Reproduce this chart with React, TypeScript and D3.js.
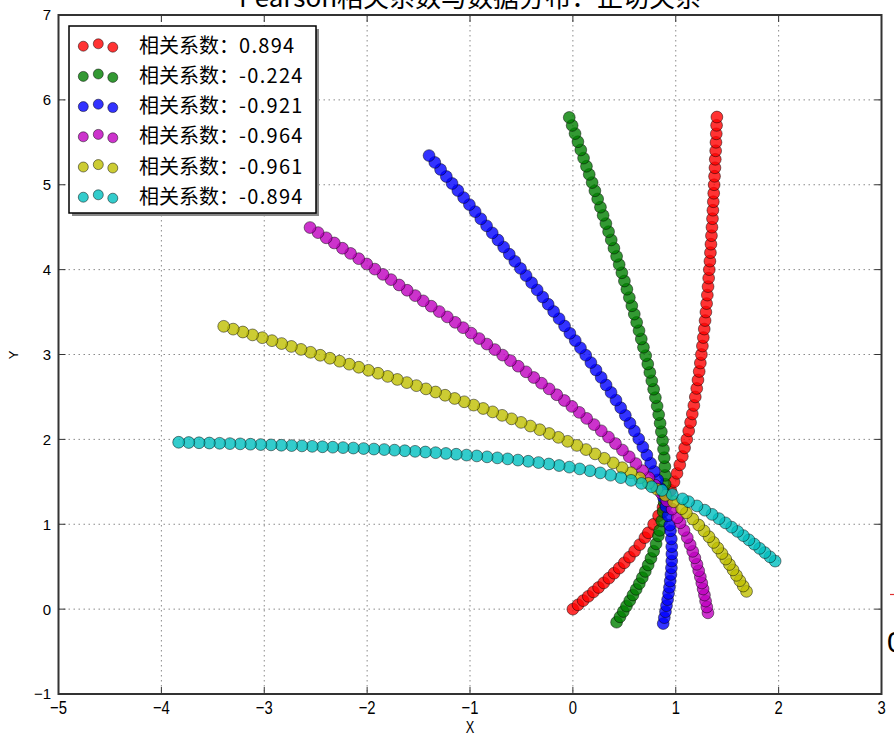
import React from 'react';
import * as d3 from 'd3';

type Pt = [number, number];

// ---- data ----
const redPoints: Pt[] = [
  [0,0],[0.05,0.05],[0.1,0.1],[0.15,0.151],[0.2,0.203],[0.25,0.255],[0.3,0.309],[0.35,0.365],[0.4,0.423],[0.45,0.483],
  [0.5,0.546],[0.55,0.613],[0.6,0.684],[0.65,0.76],[0.7,0.842],[0.733,0.9],[0.785,1.0],[0.833,1.1],[0.876,1.2],[0.915,1.3],
  [0.951,1.4],[0.983,1.5],[1.012,1.6],[1.039,1.7],[1.064,1.8],[1.086,1.9],[1.107,2.0],[1.126,2.1],[1.144,2.2],[1.161,2.3],
  [1.176,2.4],[1.19,2.5],[1.204,2.6],[1.216,2.7],[1.228,2.8],[1.239,2.9],[1.249,3.0],[1.259,3.1],[1.268,3.2],[1.277,3.3],
  [1.285,3.4],[1.293,3.5],[1.3,3.6],[1.307,3.7],[1.314,3.8],[1.32,3.9],[1.326,4.0],[1.332,4.1],[1.337,4.2],[1.342,4.3],
  [1.347,4.4],[1.352,4.5],[1.357,4.6],[1.361,4.7],[1.365,4.8],[1.369,4.9],[1.373,5.0],[1.377,5.1],[1.381,5.2],[1.384,5.3],
  [1.388,5.4],[1.391,5.5],[1.394,5.6],[1.397,5.7],[1.4,5.798]
];

const greenPoints: Pt[] = [
  [0.425,-0.154],[0.458,-0.091],[0.49,-0.028],[0.521,0.036],[0.553,0.1],[0.584,0.166],[0.615,0.233],[0.646,0.301],[0.675,0.371],[0.704,0.444],
  [0.732,0.52],[0.759,0.599],[0.785,0.682],[0.809,0.769],[0.831,0.863],[0.844,0.928],[0.863,1.039],[0.878,1.149],[0.888,1.258],[0.894,1.365],
  [0.897,1.471],[0.897,1.576],[0.894,1.68],[0.888,1.784],[0.881,1.886],[0.872,1.988],[0.86,2.09],[0.848,2.191],[0.834,2.292],[0.819,2.392],
  [0.802,2.492],[0.785,2.591],[0.767,2.69],[0.748,2.789],[0.728,2.888],[0.708,2.987],[0.686,3.085],[0.665,3.183],[0.643,3.281],[0.62,3.379],
  [0.597,3.476],[0.573,3.574],[0.549,3.671],[0.525,3.769],[0.501,3.866],[0.476,3.963],[0.45,4.06],[0.425,4.157],[0.399,4.253],[0.373,4.35],
  [0.347,4.447],[0.321,4.543],[0.294,4.64],[0.268,4.736],[0.241,4.833],[0.214,4.929],[0.187,5.026],[0.159,5.122],[0.132,5.218],[0.104,5.314],
  [0.077,5.41],[0.049,5.507],[0.021,5.603],[-0.007,5.699],[-0.035,5.793]
];

const bluePoints: Pt[] = [
  [0.878,-0.17],[0.889,-0.1],[0.9,-0.03],[0.91,0.041],[0.921,0.112],[0.93,0.184],[0.939,0.257],[0.946,0.331],[0.953,0.408],[0.958,0.486],
  [0.961,0.566],[0.962,0.65],[0.961,0.736],[0.957,0.827],[0.949,0.923],[0.942,0.989],[0.926,1.101],[0.905,1.21],[0.881,1.316],[0.854,1.42],
  [0.824,1.522],[0.791,1.622],[0.756,1.72],[0.719,1.816],[0.68,1.912],[0.64,2.006],[0.598,2.099],[0.555,2.191],[0.51,2.283],[0.465,2.373],
  [0.419,2.463],[0.371,2.553],[0.323,2.641],[0.275,2.73],[0.225,2.817],[0.175,2.905],[0.125,2.992],[0.074,3.078],[0.023,3.164],[-0.029,3.25],
  [-0.081,3.336],[-0.134,3.422],[-0.187,3.507],[-0.24,3.592],[-0.293,3.677],[-0.347,3.761],[-0.401,3.846],[-0.455,3.93],[-0.509,4.014],[-0.564,4.098],
  [-0.618,4.182],[-0.673,4.266],[-0.728,4.349],[-0.784,4.433],[-0.839,4.516],[-0.895,4.599],[-0.95,4.683],[-1.006,4.766],[-1.062,4.849],[-1.118,4.932],
  [-1.174,5.015],[-1.23,5.097],[-1.286,5.18],[-1.342,5.263],[-1.398,5.344]
];

const magentaPoints: Pt[] = [
  [1.313,-0.044],[1.302,0.025],[1.29,0.095],[1.279,0.166],[1.266,0.237],[1.253,0.308],[1.239,0.38],[1.223,0.453],[1.206,0.528],[1.186,0.604],
  [1.165,0.681],[1.14,0.761],[1.112,0.843],[1.08,0.928],[1.043,1.017],[1.015,1.077],[0.965,1.179],[0.913,1.276],[0.857,1.37],[0.799,1.46],
  [0.739,1.548],[0.677,1.632],[0.613,1.715],[0.548,1.795],[0.482,1.874],[0.414,1.951],[0.346,2.027],[0.276,2.101],[0.206,2.174],[0.134,2.247],
  [0.062,2.318],[-0.01,2.388],[-0.083,2.458],[-0.157,2.526],[-0.231,2.595],[-0.305,2.662],[-0.38,2.729],[-0.455,2.796],[-0.531,2.862],[-0.607,2.928],
  [-0.683,2.993],[-0.759,3.058],[-0.836,3.123],[-0.912,3.188],[-0.989,3.252],[-1.067,3.316],[-1.144,3.379],[-1.221,3.443],[-1.299,3.506],[-1.377,3.569],
  [-1.455,3.632],[-1.533,3.694],[-1.611,3.757],[-1.689,3.819],[-1.768,3.882],[-1.846,3.944],[-1.925,4.006],[-2.004,4.067],[-2.082,4.129],[-2.161,4.191],
  [-2.24,4.252],[-2.319,4.314],[-2.398,4.375],[-2.477,4.436],[-2.555,4.496]
];

const yellowPoints: Pt[] = [
  [1.688,0.209],[1.656,0.272],[1.623,0.335],[1.59,0.398],[1.557,0.462],[1.522,0.526],[1.486,0.59],[1.449,0.655],[1.409,0.72],[1.367,0.786],
  [1.323,0.853],[1.275,0.922],[1.223,0.991],[1.166,1.062],[1.103,1.135],[1.058,1.184],[0.979,1.265],[0.899,1.341],[0.817,1.413],[0.734,1.481],
  [0.65,1.546],[0.565,1.607],[0.479,1.666],[0.392,1.723],[0.305,1.777],[0.216,1.829],[0.128,1.88],[0.039,1.929],[-0.051,1.977],[-0.141,2.024],
  [-0.231,2.069],[-0.322,2.114],[-0.413,2.157],[-0.504,2.2],[-0.596,2.242],[-0.688,2.283],[-0.78,2.324],[-0.872,2.364],[-0.964,2.404],[-1.056,2.443],
  [-1.149,2.482],[-1.242,2.52],[-1.335,2.558],[-1.428,2.595],[-1.521,2.633],[-1.614,2.669],[-1.707,2.706],[-1.8,2.742],[-1.894,2.779],[-1.987,2.814],
  [-2.081,2.85],[-2.174,2.886],[-2.268,2.921],[-2.362,2.956],[-2.456,2.991],[-2.55,3.026],[-2.643,3.06],[-2.737,3.095],[-2.831,3.129],[-2.925,3.163],
  [-3.019,3.198],[-3.114,3.231],[-3.208,3.265],[-3.302,3.299],[-3.394,3.332]
];

const cyanPoints: Pt[] = [
  [1.966,0.566],[1.916,0.616],[1.866,0.666],[1.815,0.716],[1.763,0.766],[1.711,0.816],[1.657,0.866],[1.601,0.916],[1.543,0.966],[1.483,1.016],
  [1.42,1.066],[1.353,1.116],[1.282,1.166],[1.206,1.216],[1.124,1.266],[1.066,1.299],[0.966,1.351],[0.866,1.399],[0.766,1.442],[0.666,1.481],
  [0.566,1.517],[0.466,1.549],[0.366,1.578],[0.266,1.605],[0.166,1.63],[0.066,1.652],[-0.034,1.673],[-0.134,1.692],[-0.234,1.71],[-0.334,1.727],
  [-0.434,1.742],[-0.534,1.756],[-0.634,1.77],[-0.734,1.782],[-0.834,1.794],[-0.934,1.805],[-1.034,1.815],[-1.134,1.825],[-1.234,1.834],[-1.334,1.843],
  [-1.434,1.851],[-1.534,1.859],[-1.634,1.866],[-1.734,1.873],[-1.834,1.88],[-1.934,1.886],[-2.034,1.892],[-2.134,1.898],[-2.234,1.903],[-2.334,1.908],
  [-2.434,1.913],[-2.534,1.918],[-2.634,1.923],[-2.734,1.927],[-2.834,1.931],[-2.934,1.935],[-3.034,1.939],[-3.134,1.943],[-3.234,1.947],[-3.334,1.95],
  [-3.434,1.954],[-3.534,1.957],[-3.634,1.96],[-3.734,1.963],[-3.832,1.966]
];

const seriesLabelPrefix = '相关系数：';
const seriesValues = ['0.894', '-0.224', '-0.921', '-0.964', '-0.961', '-0.894'];
const seriesColors = ['#ff0000', '#008000', '#0000ff', '#bf00bf', '#bfbf00', '#00bfbf'];
const seriesData = [redPoints, greenPoints, bluePoints, magentaPoints, yellowPoints, cyanPoints];

const xTicks = [-5, -4, -3, -2, -1, 0, 1, 2, 3];
const yTicks = [-1, 0, 1, 2, 3, 4, 5, 6, 7];
const titleText = 'Pearson相关系数与数据分布：正切关系';
const xLabel = 'X';
const yLabel = 'Y';

const W = 894;
const H = 739;
const P = { left: 58.5, right: 881.5, top: 15, bottom: 694 };

const fmt = (v: number) => (v < 0 ? '\u2212' + Math.abs(v) : String(v));

export default function App() {
  const x = d3.scaleLinear().domain([-5, 3]).range([P.left, P.right]);
  const y = d3.scaleLinear().domain([-1, 7]).range([P.bottom, P.top]);
  const cjk = '"Noto Sans CJK SC", "Noto Sans", sans-serif';
  const sans = '"Liberation Sans", Arial, sans-serif';
  const tickLen = 7;

  const legX = 69, legY = 26, legW = 247, legH = 187;
  const rowH = 30.2;

  return (
    <svg width={W} height={H} style={{ position: 'absolute', left: 0, top: 0, background: '#fff' }}>
      <rect x={0} y={0} width={W} height={H} fill="#fff" />
      {/* title */}
      <text x={(P.left + P.right) / 2} y={7} textAnchor="middle" fontSize={26} fontFamily={cjk} fill="#000">{titleText}</text>

      {/* grid */}
      <g stroke="#8a8a8a" strokeWidth={1} strokeDasharray="1.5 3.5">
        {xTicks.slice(1, -1).map(t => (
          <line key={'gx' + t} x1={x(t)} x2={x(t)} y1={P.top} y2={P.bottom} />
        ))}
        {yTicks.slice(1, -1).map(t => (
          <line key={'gy' + t} x1={P.left} x2={P.right} y1={y(t)} y2={y(t)} />
        ))}
      </g>

      {/* ticks (inside, all sides) */}
      <g stroke="#333" strokeWidth={1}>
        {xTicks.map(t => (
          <g key={'tx' + t}>
            <line x1={x(t)} x2={x(t)} y1={P.bottom} y2={P.bottom - tickLen} />
            <line x1={x(t)} x2={x(t)} y1={P.top} y2={P.top + tickLen} />
          </g>
        ))}
        {yTicks.map(t => (
          <g key={'ty' + t}>
            <line x1={P.left} x2={P.left + tickLen} y1={y(t)} y2={y(t)} />
            <line x1={P.right} x2={P.right - tickLen} y1={y(t)} y2={y(t)} />
          </g>
        ))}
      </g>

      {/* scatter series */}
      {seriesData.map((pts, si) => (
        <g key={'s' + si}>
          {pts.map((p, i) => (
            <circle key={i} cx={x(p[0])} cy={y(p[1])} r={5.9}
              fill={seriesColors[si]} fillOpacity={0.8}
              stroke="#000" strokeWidth={0.6} strokeOpacity={0.8} />
          ))}
        </g>
      ))}

      {/* frame */}
      <rect x={P.left} y={P.top} width={P.right - P.left} height={P.bottom - P.top} fill="none" stroke="#333" strokeWidth={2} />

      {/* x tick labels */}
      {xTicks.map(t => (
        <text key={'xl' + t} transform={`translate(${x(t)},714) scale(0.78,1)`} textAnchor="middle" fontSize={19} fontFamily={sans} fill="#000">{fmt(t)}</text>
      ))}
      {/* y tick labels */}
      {yTicks.map(t => (
        <text key={'yl' + t} x={51} y={y(t)} dy="0.36em" textAnchor="end" fontSize={15} fontFamily={sans} fill="#000">{fmt(t)}</text>
      ))}

      {/* axis labels */}
      <text transform={`translate(${(P.left + P.right) / 2},733) scale(0.8,1)`} textAnchor="middle" fontSize={16} fontFamily={sans} fill="#000">{xLabel}</text>
      <text transform="translate(18,355) rotate(-90)" textAnchor="middle" fontSize={13} fontFamily={sans} fill="#000">{yLabel}</text>

      {/* legend */}
      <rect x={legX + 3} y={legY + 3} width={legW} height={legH} fill="#888" />
      <rect x={legX} y={legY} width={legW} height={legH} fill="#fff" stroke="#000" strokeWidth={1.5} />
      {seriesValues.map((val, i) => {
        const cy = 45.5 + i * rowH;
        const offs = [0.7, -1.7, 1.7];
        return (
          <g key={'lg' + i}>
            {[83.3, 98.3, 112.8].map((cx, k) => (
              <circle key={k} cx={cx} cy={cy + offs[k]} r={5} fill={seriesColors[i]} fillOpacity={0.8}
                stroke="#000" strokeWidth={0.6} strokeOpacity={0.8} />
            ))}
            <text x={139} y={cy} dy="0.36em" fontSize={20} fontFamily={cjk} fill="#000">
              {seriesLabelPrefix}<tspan letterSpacing={1.3}>{val}</tspan>
            </text>
          </g>
        );
      })}

      {/* cropped fragments at right edge of the reference */}
      <line x1={890} x2={894} y1={594.5} y2={594.5} stroke="#e03030" strokeWidth={1.2} />
      <text x={887} y={652} fontSize={30} fontFamily={sans} fill="#000">0</text>
    </svg>
  );
}
